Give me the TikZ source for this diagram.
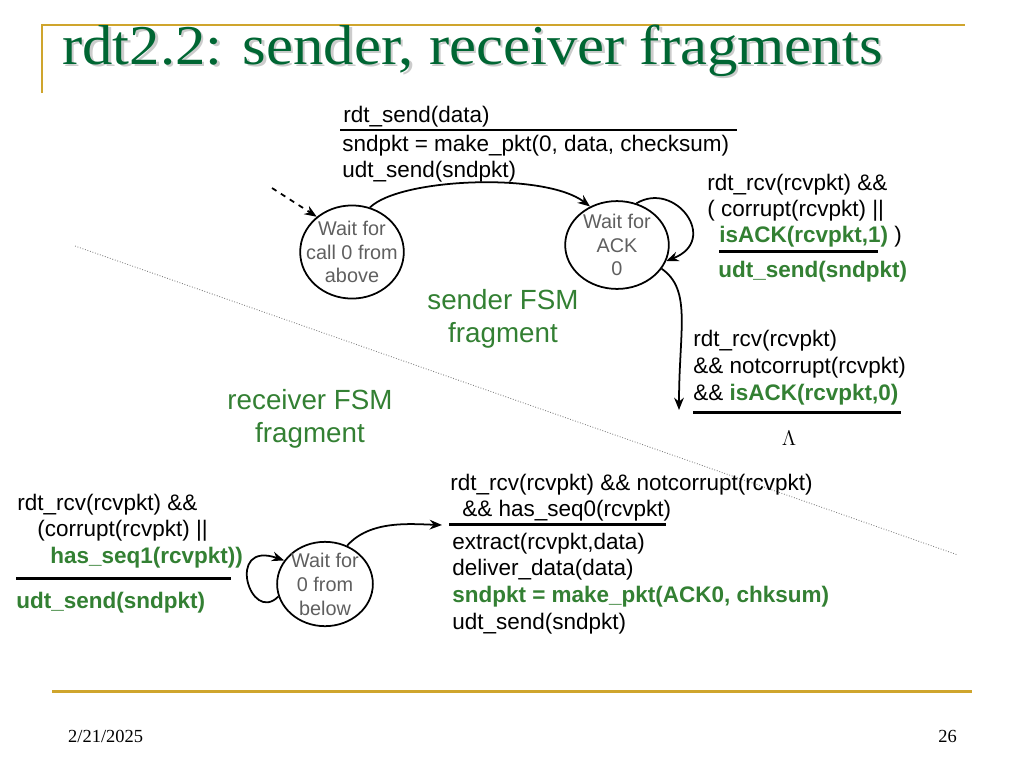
\documentclass[tikz,border=0pt]{standalone}
\usepackage{fontspec}
\usepackage{graphicx}
\setmainfont{Liberation Sans}
\newfontfamily\slidefont{Liberation Serif}
\usetikzlibrary{arrows.meta,shapes.geometric}

\definecolor{fsmgreen}{RGB}{51,128,51}
\definecolor{titlegreen}{RGB}{0,102,51}
\definecolor{slidegold}{RGB}{207,165,45}
\definecolor{stategray}{RGB}{95,95,95}

\newcommand{\slidetitle}{\scalebox{1.08}[1]{rdt2.2: sender, receiver fragments}}

\begin{document}
\begin{tikzpicture}[x=0.02cm, y=0.02cm, >={Stealth[length=7pt,width=5.5pt]},
    code/.style={anchor=west, inner sep=0pt, font=\fontsize{12.8}{15}\selectfont},
    act/.style={code, text=fsmgreen, font=\fontsize{12.8}{15}\selectfont\bfseries},
    state/.style={ellipse, draw, line width=1pt, inner sep=0pt},
    stext/.style={align=center, inner sep=0pt, text=stategray, font=\fontsize{11.3}{13.6}\selectfont},
    fsmlabel/.style={align=center, inner sep=0pt, text=fsmgreen, font=\fontsize{15.8}{18.7}\selectfont},
    rule/.style={line width=1.7pt},
    trans/.style={->, line width=1pt}]

    \useasboundingbox (0,0) rectangle (1024,-768);

    % slide frame
    \draw[slidegold, line width=1.3pt] (42,-93) -- (42,-25) -- (965,-25);
    \draw[slidegold, line width=1.7pt] (52,-691) -- (972,-691);
    \node[anchor=base west, inner sep=0pt, text=gray!40, font=\slidefont\fontsize{32}{36}\selectfont] (titleshadow) at (64.5,-66.5) {\slidetitle};
    \node[anchor=base west, inner sep=0pt, text=titlegreen, font=\slidefont\fontsize{32}{36}\selectfont] (title) at (62,-64) {\slidetitle};
    \node[anchor=west, font=\slidefont\fontsize{10.5}{12}\selectfont] (date) at (62,-736) {2/21/2025};
    \node[anchor=east, font=\slidefont\fontsize{10.5}{12}\selectfont] (page) at (963,-736) {26};

    \draw[gray, densely dotted, line width=0.5pt] (75,-246) -- (958,-555);

    % sender
    \node[state, minimum width=59pt, minimum height=53pt,
        label={[stext]center:{Wait for\\call 0 from\\above}}] (s0) at (352,-252) {};
    \node[state, minimum width=59pt, minimum height=50pt,
        label={[stext]center:{Wait for\\ACK\\0}}] (s1) at (617,-245) {};
    \coordinate (init) at (272,-188);
    \coordinate (ackend) at (679,-410);

    \draw[trans, dashed] (init) -- (s0.135);
    \draw[trans] (s0.68) .. controls (400,-178) and (545,-172) .. (s1.125);
    \draw[trans] (s1.65) .. controls (675,-180) and (720,-240) .. (s1.-18);
    \draw[trans] (s1.-28) .. controls (692,-290) and (679,-330) .. (ackend);

    \node[code] (snd1) at (343,-117) {rdt\_send(data)};
    \draw[rule] (340,-130) -- (737,-130);
    \node[code] (snd2) at (342,-146) {sndpkt = make\_pkt(0, data, checksum)};
    \node[code] (snd3) at (342,-172) {udt\_send(sndpkt)};

    \node[code] (resend1) at (707,-185) {rdt\_rcv(rcvpkt) \&\&};
    \node[code] (resend2) at (707,-211) {( corrupt(rcvpkt) ||};
    \node[code] (resend3) at (719,-237) {\textcolor{fsmgreen}{\bfseries isACK(rcvpkt,1)} )};
    \draw[rule] (719,-251) -- (878,-251);
    \node[act] (resend4) at (718,-272) {udt\_send(sndpkt)};

    \node[code] (ack1) at (693,-341) {rdt\_rcv(rcvpkt)};
    \node[code] (ack2) at (693,-368) {\&\& notcorrupt(rcvpkt)};
    \node[code] (ack3) at (693,-395) {\&\& \textcolor{fsmgreen}{\bfseries isACK(rcvpkt,0)}};
    \draw[rule] (693,-412) -- (901,-412);
    \node[font=\fontsize{13}{15}\selectfont] (lambda) at (789,-438) {$\Lambda$};

    \node[fsmlabel] (senderlbl) at (503,-318.5) {sender FSM\\fragment};
    \node[fsmlabel] (receiverlbl) at (310,-418.5) {receiver FSM\\fragment};

    % receiver
    \node[state, minimum width=54.5pt, minimum height=48pt,
        label={[stext]center:{Wait for\\0 from\\below}}] (r0) at (325,-584) {};
    \coordinate (rcvin) at (442,-525);

    \draw[trans] (r0.195) .. controls (250,-625) and (225,-540) .. (r0.150);
    \draw[trans] (r0.60) .. controls (370,-520) and (410,-524) .. (rcvin);

    \node[code] (dup1) at (17,-505) {rdt\_rcv(rcvpkt) \&\&};
    \node[code] (dup2) at (37,-531) {(corrupt(rcvpkt) ||};
    \node[act] (dup3) at (50,-558) {has\_seq1(rcvpkt))};
    \draw[rule] (16,-578) -- (231,-578);
    \node[act] (dup4) at (16,-603) {udt\_send(sndpkt)};

    \node[code] (dlv1) at (450,-485) {rdt\_rcv(rcvpkt) \&\& notcorrupt(rcvpkt)};
    \node[code] (dlv2) at (462,-511) {\&\& has\_seq0(rcvpkt)};
    \draw[rule] (449,-524) -- (666,-524);
    \node[code] (dlv3) at (452,-544) {extract(rcvpkt,data)};
    \node[code] (dlv4) at (452,-570) {deliver\_data(data)};
    \node[act] (dlv5) at (452,-597) {sndpkt = make\_pkt(ACK0, chksum)};
    \node[code] (dlv6) at (452,-624) {udt\_send(sndpkt)};

\end{tikzpicture}
\end{document}
